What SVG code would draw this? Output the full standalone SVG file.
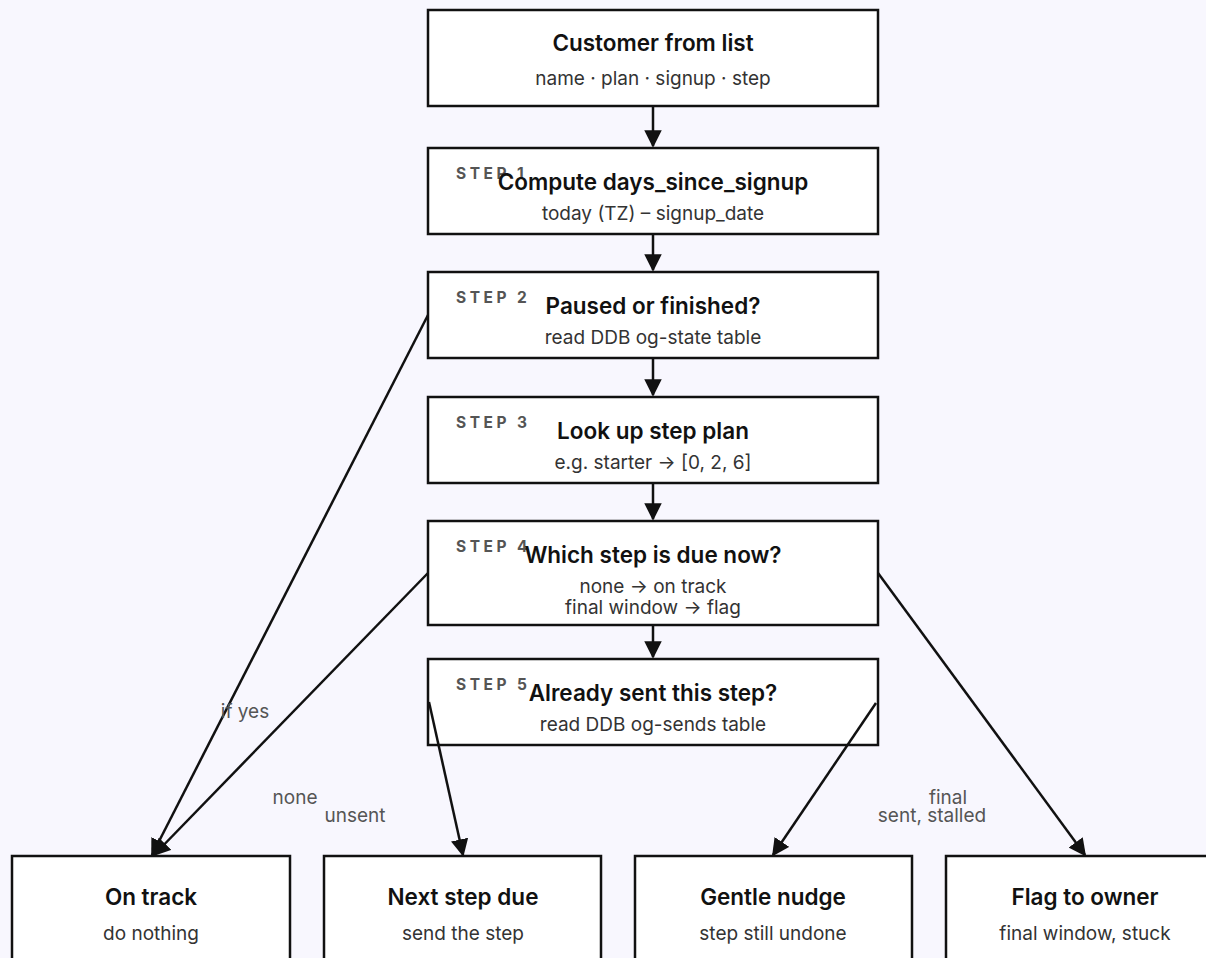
<svg xmlns="http://www.w3.org/2000/svg" width="1206" height="958" viewBox="0 0 1206 958">
<defs>
<style>
.box{fill:#ffffff;stroke:#111111;stroke-width:2.5}
.t{font-family:Inter,"Liberation Sans",sans-serif;font-weight:600;font-size:22.5px;fill:#111111;text-anchor:middle}
.s{font-family:Inter,"Liberation Sans",sans-serif;font-size:19px;fill:#333333;text-anchor:middle}
.k{font-family:Inter,"Liberation Sans",sans-serif;font-weight:700;font-size:15.5px;fill:#555555;letter-spacing:3.5px}
.e{fill:none;stroke:#111111;stroke-width:2.5}
.l{font-family:Inter,"Liberation Sans",sans-serif;font-size:19px;fill:#555555;text-anchor:middle}
</style>
<marker id="ah" viewBox="0 0 10 10" refX="9" refY="5" markerWidth="7" markerHeight="7" markerUnits="strokeWidth" orient="auto">
<path d="M0,0 L10,5 L0,10 z" fill="#111111"/>
</marker>
</defs>
<rect width="1206" height="958" fill="#f8f7fe"/>
<g id="n0">
<rect class="box" x="428" y="10" width="450" height="96"/>
<text class="t" x="653" y="51">Customer from list</text>
<text class="s" x="653" y="85">name · plan · signup · step</text>
</g>
<g id="n1">
<rect class="box" x="428" y="148" width="450" height="86"/>
<text class="k" x="456" y="179">STEP 1</text>
<text class="t" x="653" y="190">Compute days_since_signup</text>
<text class="s" x="653" y="220">today (TZ) – signup_date</text>
</g>
<g id="n2">
<rect class="box" x="428" y="272" width="450" height="86"/>
<text class="k" x="456" y="303">STEP 2</text>
<text class="t" x="653" y="314">Paused or finished?</text>
<text class="s" x="653" y="344">read DDB og-state table</text>
</g>
<g id="n3">
<rect class="box" x="428" y="397" width="450" height="86"/>
<text class="k" x="456" y="428">STEP 3</text>
<text class="t" x="653" y="439">Look up step plan</text>
<text class="s" x="653" y="469">e.g. starter → [0, 2, 6]</text>
</g>
<g id="n4">
<rect class="box" x="428" y="521" width="450" height="104"/>
<text class="k" x="456" y="552">STEP 4</text>
<text class="t" x="653" y="563">Which step is due now?</text>
<text class="s" x="653" y="593">none → on track</text>
<text class="s" x="653" y="614">final window → flag</text>
</g>
<g id="n5">
<rect class="box" x="428" y="659" width="450" height="86"/>
<text class="k" x="456" y="690">STEP 5</text>
<text class="t" x="653" y="701">Already sent this step?</text>
<text class="s" x="653" y="731">read DDB og-sends table</text>
</g>
<g id="n6">
<rect class="box" x="12" y="856" width="278" height="120"/>
<text class="t" x="151" y="905">On track</text>
<text class="s" x="151" y="940">do nothing</text>
</g>
<g id="n7">
<rect class="box" x="324" y="856" width="277" height="120"/>
<text class="t" x="463" y="905">Next step due</text>
<text class="s" x="463" y="940">send the step</text>
</g>
<g id="n8">
<rect class="box" x="635" y="856" width="277" height="120"/>
<text class="t" x="773" y="905">Gentle nudge</text>
<text class="s" x="773" y="940">step still undone</text>
</g>
<g id="n9">
<rect class="box" x="946" y="856" width="277" height="120"/>
<text class="t" x="1085" y="905">Flag to owner</text>
<text class="s" x="1085" y="940">final window, stuck</text>
</g>
<g id="edges">
<line class="e" x1="653" y1="107" x2="653" y2="146" marker-end="url(#ah)"/>
<line class="e" x1="653" y1="235" x2="653" y2="270" marker-end="url(#ah)"/>
<line class="e" x1="653" y1="359" x2="653" y2="395" marker-end="url(#ah)"/>
<line class="e" x1="653" y1="484" x2="653" y2="519" marker-end="url(#ah)"/>
<line class="e" x1="653" y1="626" x2="653" y2="657" marker-end="url(#ah)"/>
<line class="e" x1="428" y1="315" x2="152" y2="855" marker-end="url(#ah)"/>
<line class="e" x1="428" y1="573" x2="154" y2="855" marker-end="url(#ah)"/>
<line class="e" x1="429" y1="702" x2="463" y2="855" marker-end="url(#ah)"/>
<line class="e" x1="876" y1="703" x2="773" y2="855" marker-end="url(#ah)"/>
<line class="e" x1="878" y1="573" x2="1085" y2="855" marker-end="url(#ah)"/>
<text class="l" x="245" y="718">if yes</text>
<text class="l" x="295" y="804">none</text>
<text class="l" x="355" y="822">unsent</text>
<text class="l" x="948" y="804">final</text>
<text class="l" x="932" y="822">sent, stalled</text>
</g>
</svg>
